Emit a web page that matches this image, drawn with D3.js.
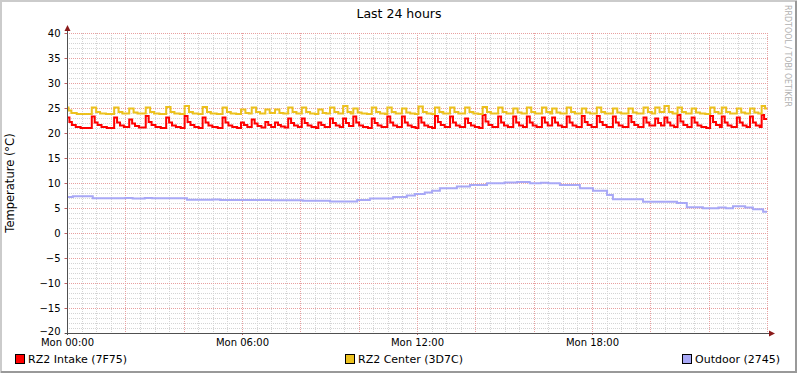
<!DOCTYPE html>
<html>
<head>
<meta charset="utf-8">
<script src="https://cdn.jsdelivr.net/npm/d3@7"></script>
<style>
	body { margin: 0; background: #fff; }
	svg text { font-family: "DejaVu Sans", sans-serif; }
</style>
</head>
<body>
<svg id="chart" width="797" height="373"></svg>
<script>
'use strict'

/* ================================ Data ================================ */
// times are minutes after Mon 00:00, values in degrees C
var chartTitle = 'Last 24 hours';
var yAxisTitle = 'Temperature (°C)';
var watermark = 'RRDTOOL / TOBI OETIKER';
var seriesNames = ['RZ2 Intake (7F75)', 'RZ2 Center (3D7C)', 'Outdoor (2745)'];
var yTickValues = [-20, -15, -10, -5, 0, 5, 10, 15, 20, 25, 30, 35, 40];
var xLabelHours = [0, 6, 12, 18];

var intake = [
	[0,23.1],[5,22.2],[10,21.6],[18,21.2],[28,21.0],
	[51,23.3],[57,22.1],[63,21.6],[71,21.2],[82,21.0],
	[97,23.1],[103,22.1],[109,21.5],[117,21.2],
	[128,22.7],[134,21.9],[140,21.4],[148,21.1],
	[162,23.4],[168,22.2],[174,21.6],[182,21.2],[193,21.0],
	[204,23.1],[210,22.1],[216,21.5],[224,21.2],[234,21.0],
	[242,23.4],[248,22.2],[254,21.6],[262,21.2],[271,21.0],
	[279,23.1],[285,22.1],[291,21.5],[299,21.2],[310,21.0],
	[320,23.1],[326,22.1],[332,21.5],[340,21.2],[350,21.0],
	[358,22.1],[364,21.6],[371,21.2],
	[380,22.7],[386,21.9],[392,21.4],[400,21.1],
	[408,22.2],[414,21.6],[420,21.2],
	[428,22.1],[434,21.6],[440,21.3],[448,21.1],
	[455,22.9],[461,22.0],[467,21.5],[475,21.2],
	[483,22.9],[489,22.0],[495,21.5],[503,21.2],[512,21.0],
	[517,22.1],[523,21.6],[530,21.2],
	[541,22.9],[547,22.0],[553,21.5],[561,21.2],
	[568,22.9],[574,22.0],[580,21.4],
	[589,23.3],[595,22.1],[601,21.5],[609,21.2],[619,21.0],
	[627,22.9],[633,22.0],[639,21.5],[647,21.2],
	[659,23.3],[665,22.1],[671,21.5],[679,21.2],
	[689,23.3],[695,22.1],[701,21.5],[709,21.2],[717,21.0],
	[723,23.1],[729,22.1],[735,21.5],[743,21.2],[751,21.0],
	[757,23.4],[763,22.2],[769,21.6],[777,21.2],
	[788,23.3],[794,22.1],[800,21.5],[808,21.2],
	[819,22.9],[825,22.0],[831,21.5],[839,21.2],[848,21.0],
	[855,23.6],[861,22.3],[867,21.6],[875,21.2],
	[887,23.3],[893,22.1],[899,21.5],[907,21.2],
	[918,23.3],[924,22.1],[930,21.5],[938,21.2],
	[946,23.3],[952,22.1],[958,21.5],[966,21.2],
	[977,23.1],[983,22.1],[989,21.5],
	[998,23.1],[1004,22.1],[1010,21.5],[1018,21.2],
	[1028,23.3],[1034,22.1],[1040,21.5],[1048,21.2],
	[1059,23.4],[1065,22.2],[1071,21.6],[1079,21.2],
	[1090,23.4],[1096,22.2],[1102,21.6],[1110,21.2],
	[1123,23.3],[1129,22.1],[1135,21.5],[1143,21.2],
	[1155,23.4],[1161,22.2],[1167,21.6],[1175,21.2],
	[1186,23.1],[1192,22.1],[1198,21.5],
	[1210,22.9],[1216,22.0],[1222,21.5],
	[1229,23.1],[1235,22.1],[1241,21.5],[1249,21.2],
	[1256,23.6],[1262,22.3],[1268,21.6],[1276,21.2],
	[1285,23.1],[1291,22.1],[1297,21.5],[1305,21.2],[1315,21.0],
	[1323,23.4],[1329,22.2],[1335,21.6],[1343,21.2],
	[1347,23.3],[1353,22.1],[1359,21.5],[1367,21.2],
	[1378,23.1],[1384,22.1],[1390,21.5],[1398,21.2],
	[1405,23.3],[1411,22.1],[1417,21.5],[1425,21.2],
	[1429,23.6],[1434,22.8],[1440,22.8]
];

var center = [
	[0,25.1],[3,24.5],[9,24.0],[20,23.8],
	[51,25.1],[60,24.2],[68,23.9],[80,23.8],
	[97,25.1],[106,24.2],[114,23.9],
	[128,24.9],[137,24.1],[145,23.9],
	[162,25.1],[171,24.2],[179,23.9],[190,23.8],
	[204,25.2],[213,24.2],[221,23.9],[232,23.8],
	[242,25.4],[251,24.2],[259,23.9],[270,23.8],
	[279,25.2],[288,24.2],[296,23.9],[308,23.8],
	[320,25.1],[329,24.2],[337,23.9],[348,23.8],
	[358,24.7],[367,24.0],[374,23.9],
	[380,25.1],[389,24.2],[397,23.9],
	[408,24.7],[417,24.0],
	[428,24.7],[437,24.0],[445,23.9],
	[455,25.1],[464,24.2],[472,23.9],
	[483,25.1],[492,24.2],[500,23.9],[510,23.8],
	[517,24.7],[526,24.0],[533,23.9],
	[541,25.1],[550,24.2],[558,23.9],
	[568,25.4],[577,24.2],[584,23.9],
	[589,24.9],[598,24.1],[606,23.9],[617,23.8],
	[627,25.1],[636,24.2],[644,23.9],[654,23.8],
	[659,25.1],[668,24.2],[676,23.9],
	[689,24.9],[698,24.1],[706,23.9],[716,23.8],
	[723,25.3],[732,24.2],[740,23.9],[750,23.8],
	[757,25.1],[766,24.2],[774,23.9],
	[788,25.1],[797,24.2],[805,23.9],
	[819,25.1],[828,24.2],[836,23.9],[846,23.8],
	[855,25.2],[864,24.2],[872,23.9],
	[887,25.1],[896,24.2],[904,23.9],
	[918,24.9],[927,24.1],[935,23.9],
	[946,25.1],[955,24.2],[963,23.9],
	[977,25.1],[986,24.2],[994,23.9],
	[998,24.9],[1007,24.1],[1015,23.9],
	[1028,25.1],[1037,24.2],[1045,23.9],
	[1059,24.9],[1068,24.1],[1076,23.9],
	[1090,25.1],[1099,24.2],[1107,23.9],
	[1123,24.9],[1132,24.1],[1140,23.9],
	[1155,24.9],[1164,24.1],[1172,23.9],
	[1186,25.1],[1195,24.2],[1203,23.9],
	[1210,25.1],[1219,24.2],
	[1229,25.4],[1238,24.2],[1246,23.9],
	[1256,25.1],[1265,24.2],[1273,23.9],
	[1285,24.9],[1294,24.1],[1302,23.9],[1313,23.8],
	[1323,25.1],[1332,24.2],[1340,23.9],
	[1347,25.1],[1356,24.2],[1364,23.9],
	[1378,24.9],[1387,24.1],[1395,23.9],
	[1405,24.9],[1414,24.1],[1422,23.9],
	[1429,25.4],[1436,24.9],[1440,24.9]
];

var outdoor = [
	[0,7.2],[12,7.35],[53,6.95],[120,7.0],[135,6.9],[160,7.0],[175,6.95],
	[247,6.65],[300,6.7],[315,6.6],[420,6.55],[485,6.45],[541,6.3],
	[597,6.6],[623,6.9],[671,7.2],[699,7.5],[716,7.8],[736,8.1],[751,8.47],
	[767,8.93],[802,9.3],[829,9.6],[864,9.93],[900,10.1],[926,10.2],[952,9.93],
	[975,10.05],[990,9.93],[1014,9.6],[1055,8.93],[1082,8.47],[1111,7.6],
	[1123,6.73],[1185,6.27],[1255,6.0],[1275,5.13],[1308,4.93],[1340,5.1],
	[1355,4.95],[1370,5.33],[1395,5.1],[1411,4.73],[1432,4.27],[1440,4.27]
];

/* ================================ Styles ================================ */
var seriesColors = ['#ff0000', '#ecc11e', '#a8a8f6'];
var legendX = [15, 345, 682];

/* ================================ Setup ================================ */
var svg = d3.select('#chart');
var W = 797, H = 373;
var plot = { left: 67, top: 33, width: 700, height: 300 };

var day0 = new Date(2024, 0, 1); // a monday
function toDate(min) { return d3.timeMinute.offset(day0, min); }
function toPoints(arr) { return arr.map(function(d){ return { t: toDate(d[0]), v: d[1] }; }); }

var x = d3.scaleTime()
	.domain([day0, toDate(1440)])
	.range([plot.left, plot.left + plot.width]);
var y = d3.scaleLinear()
	.domain([-20, 40])
	.range([plot.top + plot.height, plot.top]);

// background and 3d-ish border like rrdtool
svg.append('rect').attr('width', W).attr('height', H).attr('fill', '#ffffff');
svg.append('path').attr('d', 'M1,' + H + 'V1H' + W).attr('fill', 'none').attr('stroke', '#cbcbcb').attr('stroke-width', 2);
svg.append('path').attr('d', 'M1,' + (H - 1) + 'H' + (W - 1) + 'V1').attr('fill', 'none').attr('stroke', '#999999').attr('stroke-width', 2);

/* ================================ Grid ================================ */
var grid = svg.append('g').attr('shape-rendering', 'crispEdges');
var minorX = d3.timeMinute.every(30).range(day0, toDate(1441));
var majorX = d3.timeHour.every(2).range(day0, toDate(1441));
var minorY = d3.range(-20, 41, 1);

grid.selectAll('.gx').data(minorX).enter().append('line')
	.attr('x1', function(d){ return Math.round(x(d)) + 0.5; })
	.attr('x2', function(d){ return Math.round(x(d)) + 0.5; })
	.attr('y1', plot.top).attr('y2', plot.top + plot.height)
	.attr('stroke', '#d4d4d4').attr('stroke-dasharray', '1,1');
grid.selectAll('.gy').data(minorY).enter().append('line')
	.attr('x1', plot.left).attr('x2', plot.left + plot.width + 1)
	.attr('y1', function(d){ return Math.round(y(d)) + 0.5; })
	.attr('y2', function(d){ return Math.round(y(d)) + 0.5; })
	.attr('stroke', '#d4d4d4').attr('stroke-dasharray', '1,1');
grid.selectAll('.mx').data(majorX).enter().append('line')
	.attr('x1', function(d){ return Math.round(x(d)) + 0.5; })
	.attr('x2', function(d){ return Math.round(x(d)) + 0.5; })
	.attr('y1', plot.top).attr('y2', plot.top + plot.height + 2)
	.attr('stroke', '#e8a0a0').attr('stroke-dasharray', '1,1');
grid.selectAll('.my').data(yTickValues).enter().append('line')
	.attr('x1', plot.left).attr('x2', plot.left + plot.width + 1)
	.attr('y1', function(d){ return Math.round(y(d)) + 0.5; })
	.attr('y2', function(d){ return Math.round(y(d)) + 0.5; })
	.attr('stroke', '#e8a0a0').attr('stroke-dasharray', '1,1');

/* ================================ Lines ================================ */
var line = d3.line()
	.curve(d3.curveStepAfter)
	.x(function(d){ return x(d.t); })
	.y(function(d){ return y(d.v); });

[intake, center, outdoor].forEach(function(s, i){
	svg.append('path')
		.datum(toPoints(s))
		.attr('d', line)
		.attr('fill', 'none')
		.attr('stroke', seriesColors[i])
		.attr('stroke-width', 2);
});

/* ================================ Axes ================================ */
var yAxis = d3.axisLeft(y).tickValues(yTickValues).tickSize(3).tickPadding(4);
var gy = svg.append('g').attr('transform', 'translate(' + (plot.left + 0.5) + ',0)').call(yAxis);
gy.select('.domain').remove();
gy.selectAll('.tick line').attr('stroke', '#c06060');
gy.selectAll('text').attr('font-size', 10).attr('fill', '#000');
// lowest label sits right on top of the first time label, lift it a bit
gy.selectAll('text').filter(function(d){ return d === -20; }).attr('dy', '0.1em');

var xAxis = d3.axisBottom(x)
	.tickValues(xLabelHours.map(function(h){ return toDate(h * 60); }))
	.tickFormat(d3.timeFormat('%a %H:%M'))
	.tickSize(2).tickPadding(4);
var gx = svg.append('g').attr('transform', 'translate(0,' + (plot.top + plot.height) + ')').call(xAxis);
gx.select('.domain').remove();
gx.selectAll('.tick line').attr('stroke', '#c06060');
gx.selectAll('text').attr('font-size', 10).attr('fill', '#000');

// axis lines with arrow heads
svg.append('line')
	.attr('x1', plot.left + 0.5).attr('x2', plot.left + 0.5)
	.attr('y1', plot.top + plot.height + 2).attr('y2', plot.top - 4)
	.attr('stroke', '#505050').attr('stroke-width', 1);
svg.append('line')
	.attr('x1', plot.left - 2).attr('x2', plot.left + plot.width + 4)
	.attr('y1', plot.top + plot.height + 0.5).attr('y2', plot.top + plot.height + 0.5)
	.attr('stroke', '#505050').attr('stroke-width', 1);
svg.append('path')
	.attr('d', 'M' + (plot.left - 2.5) + ',' + (plot.top - 2) + 'L' + (plot.left + 3.5) + ',' + (plot.top - 2) + 'L' + (plot.left + 0.5) + ',' + (plot.top - 8) + 'Z')
	.attr('fill', '#8b1a1a');
var ax = plot.left + plot.width + 2, ay = plot.top + plot.height + 0.5;
svg.append('path')
	.attr('d', 'M' + ax + ',' + (ay - 3) + 'L' + ax + ',' + (ay + 3) + 'L' + (ax + 6) + ',' + ay + 'Z')
	.attr('fill', '#8b1a1a');

/* ================================ Texts ================================ */
svg.append('text')
	.attr('x', 399).attr('y', 18)
	.attr('text-anchor', 'middle')
	.attr('font-size', 12.5)
	.attr('fill', '#000')
	.text(chartTitle);

svg.append('text')
	.attr('transform', 'translate(14,' + (plot.top + plot.height / 2) + ') rotate(-90)')
	.attr('text-anchor', 'middle')
	.attr('font-size', 11.5)
	.attr('fill', '#000')
	.text(yAxisTitle);

svg.append('text')
	.attr('transform', 'translate(785,5) rotate(90)')
	.attr('font-size', 8.5)
	.attr('textLength', 102)
	.attr('lengthAdjust', 'spacingAndGlyphs')
	.attr('fill', '#b0b0b0')
	.text(watermark);

// legend
var legend = svg.selectAll('.legend').data(seriesNames).enter().append('g')
	.attr('transform', function(d, i){ return 'translate(' + legendX[i] + ',354)'; });
legend.append('rect')
	.attr('x', 0.5).attr('y', 0.5).attr('width', 9).attr('height', 9)
	.attr('fill', function(d, i){ return seriesColors[i]; })
	.attr('stroke', '#000').attr('stroke-width', 1);
legend.append('text')
	.attr('x', 13).attr('y', 9)
	.attr('font-size', 11)
	.attr('fill', '#000')
	.text(function(d){ return d; });
</script>
</body>
</html>
